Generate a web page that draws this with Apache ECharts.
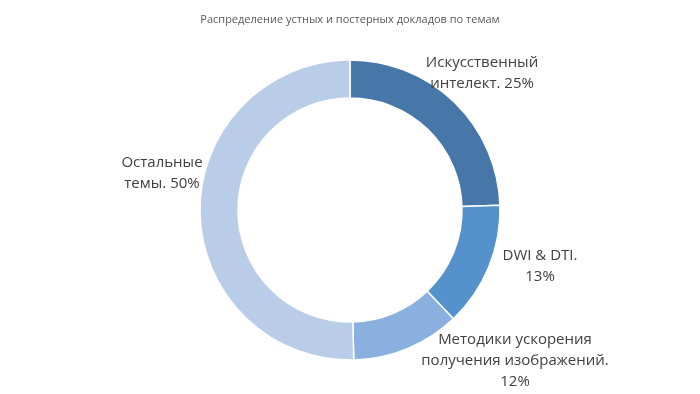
<!DOCTYPE html>
<html><head><meta charset="utf-8">
<script src="https://cdn.jsdelivr.net/npm/echarts@6/dist/echarts.min.js"></script>
<style>html,body{margin:0;padding:0;background:#fff}#c{width:700px;height:394px}</style>
</head><body><div id="c"></div>
<script>
const titleText = 'Распределение устных и постерных докладов по темам';
const categories = ['Искусственный\nинтелект', 'DWI & DTI', 'Методики ускорения\nполучения изображений', 'Остальные\nтемы'];
const percentLabels = ['25%', '13%', '12%', '50%'];
const values = [24.5, 13.4, 11.7, 50.4];
const colors = ['#4677a8', '#5591ca', '#8ab0df', '#b9cde9'];
const labelSep = ['. ', '.\n', '.\n', '. '];
const labelPos = [[482, 73], [540, 266], [515, 361], [162, 173]];

const chart = echarts.init(document.getElementById('c'));
chart.setOption({
  animation: false,
  title: {text: titleText, left: 'center', top: 9,
    textStyle: {fontFamily: 'Open Sans', fontSize: 11, fontWeight: 'normal', color: '#595959'}},
  series: [{
    type: 'pie',
    center: [350, 210],
    radius: [112, 150],
    startAngle: 90,
    clockwise: true,
    itemStyle: {borderColor: '#fff', borderWidth: 1.5},
    label: {show: true, position: 'outside', fontFamily: 'Open Sans', fontSize: 15,
      color: '#404040', lineHeight: 21, align: 'center',
      formatter: p => categories[p.dataIndex] + labelSep[p.dataIndex] + percentLabels[p.dataIndex]},
    labelLine: {show: false},
    labelLayout: p => ({x: labelPos[p.dataIndex][0], y: labelPos[p.dataIndex][1], align: 'center', verticalAlign: 'middle'}),
    emphasis: {disabled: true},
    data: categories.map((c, i) => ({name: c, value: values[i], itemStyle: {color: colors[i]}}))
  }]
});
</script></body></html>
